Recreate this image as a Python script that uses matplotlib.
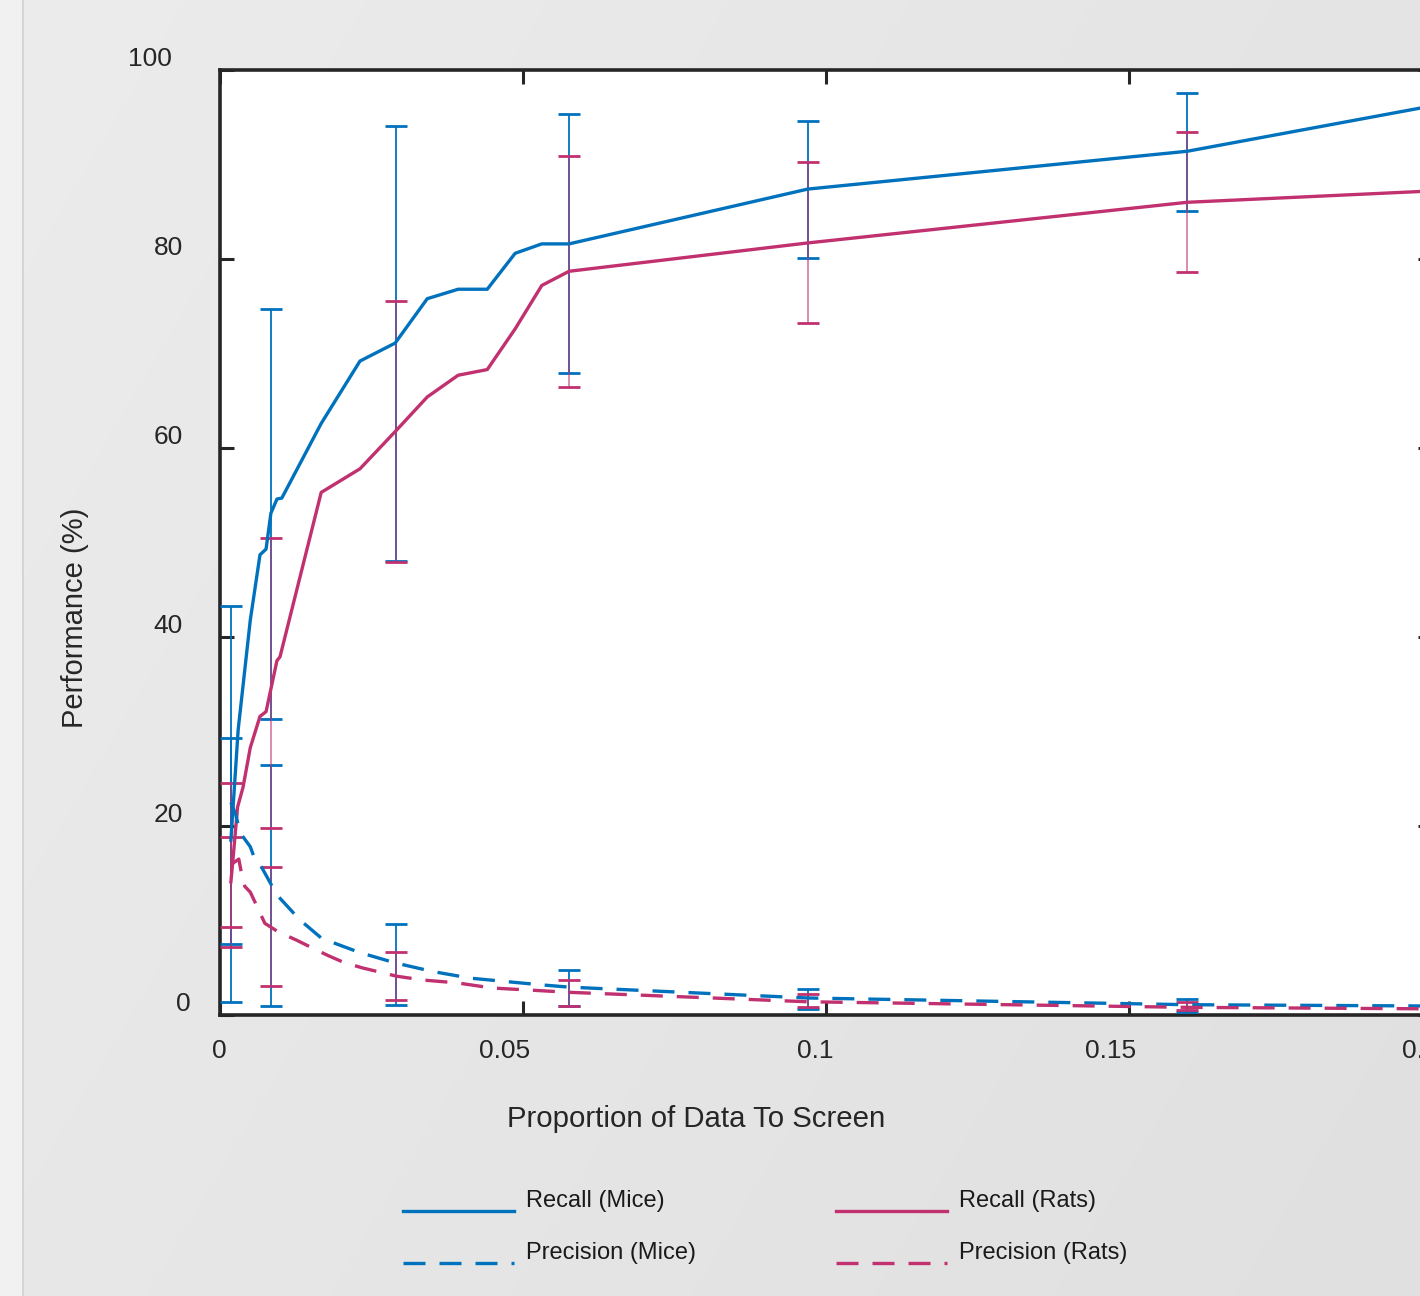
import numpy as np
import matplotlib
matplotlib.use("Agg")
import matplotlib.pyplot as plt
from matplotlib.transforms import offset_copy

plt.rcParams["font.family"] = ["Liberation Sans", "DejaVu Sans"]

# ── Data ──────────────────────────────────────────────────────────────────────

recall_mice_x = [0.0018, 0.0030, 0.0050, 0.0066, 0.0076, 0.0084, 0.0094, 0.0102,
                 0.0167, 0.0231, 0.0289, 0.0342, 0.0393, 0.0441, 0.0487, 0.0531,
                 0.0576, 0.0970, 0.1596, 0.2000]
recall_mice_y = [18.5, 30.2, 41.8, 48.7, 49.3, 53.1, 54.6, 54.7,
                 62.6, 69.2, 71.1, 75.8, 76.8, 76.8, 80.6, 81.6,
                 81.6, 87.4, 91.4, 96.2]

recall_rats_x = [0.0018, 0.0021, 0.0029, 0.0038, 0.0050, 0.0066, 0.0076, 0.0094,
                 0.0099, 0.0167, 0.0231, 0.0290, 0.0342, 0.0393, 0.0441, 0.0487,
                 0.0531, 0.0576, 0.0970, 0.1596, 0.2000]
recall_rats_y = [14.1, 16.2, 22.0, 24.1, 28.3, 31.6, 32.1, 37.5,
                 37.9, 55.3, 57.8, 61.8, 65.4, 67.7, 68.3, 72.6,
                 77.2, 78.7, 81.7, 86.0, 87.2]

precision_mice_x = [0.0018, 0.0026, 0.0033, 0.0050, 0.0058, 0.0069, 0.0094, 0.0132,
                    0.0168, 0.0231, 0.0290, 0.0351, 0.0413, 0.0528, 0.0576, 0.0970,
                    0.1596, 0.2000]
precision_mice_y = [22.5, 21.2, 19.3, 17.8, 16.4, 15.6, 12.7, 10.05,
                    8.1, 6.6, 5.5, 4.6, 3.9, 3.2, 2.95, 1.8,
                    1.09, 0.95]

precision_rats_x = [0.0018, 0.0031, 0.0036, 0.0041, 0.0050, 0.0061, 0.0074, 0.0096,
                    0.0127, 0.0149, 0.0178, 0.0203, 0.0234, 0.0292, 0.0335, 0.0391,
                    0.0450, 0.0508, 0.0576, 0.0970, 0.1596, 0.2000]
precision_rats_y = [15.9, 16.5, 14.8, 13.6, 13.0, 11.5, 9.7, 8.8,
                    7.9, 7.2, 6.3, 5.6, 5.0, 4.1, 3.7, 3.4,
                    2.85, 2.65, 2.4, 1.4, 0.81, 0.65]

# error bars (mean +/- half-range) at the sampled screening proportions
err_x = [0.0018, 0.0084, 0.0290, 0.0576, 0.0970, 0.1596]
recall_mice_mean = [22.35, 53.0, 71.05, 81.6, 87.35, 91.35]
recall_mice_err = [20.95, 21.7, 23.05, 13.7, 7.25, 6.25]
recall_rats_mean = [15.85, 35.15, 61.75, 78.7, 81.75, 86.0]
recall_rats_err = [8.65, 15.35, 13.85, 12.2, 8.55, 7.4]
precision_mice_mean = [18.4, 13.7, 5.35, 2.9, 1.7, 1.0]
precision_mice_err = [10.9, 12.8, 4.3, 1.9, 1.05, 0.67]
precision_rats_mean = [14.05, 9.4, 4.15, 2.35, 1.55, 0.95]
precision_rats_err = [4.75, 6.3, 2.55, 1.35, 0.7, 0.43]

x_ticks = [0, 0.05, 0.1, 0.15, 0.2]
x_tick_labels = ["0", "0.05", "0.1", "0.15", "0.2"]
y_ticks = [0, 20, 40, 60, 80, 100]
y_tick_labels = ["0", "20", "40", "60", "80", "100"]

legend_labels = ["Recall (Mice)", "Recall (Rats)", "Precision (Mice)", "Precision (Rats)"]

BLUE = "#0072BD"
PINK = "#C1306F"
INK = "#262626"
W, H = 1420, 1296

# ── Figure + background ───────────────────────────────────────────────────────

fig = plt.figure(figsize=(W / 100, H / 100), dpi=100)

bg = fig.add_axes([0, 0, 1, 1], zorder=-10)
bg.set_xlim(0, W)
bg.set_ylim(H, 0)
bg.axis("off")
gx, gy = np.meshgrid(np.linspace(0, 1, 300), np.linspace(0, 1, 300))
shade = (236 - 12 * (0.65 * gx + 0.35 * gy)) / 255.0
bg.imshow(np.dstack([shade] * 3), extent=[0, W, H, 0], aspect="auto", interpolation="bilinear")
bg.fill_between([0, 22], 0, H, color="#f1f1f1", lw=0)
bg.plot([22.5, 22.5], [0, H], color="#d2d2d2", lw=1.2)

# ── Main axes (right edge runs past the figure) ───────────────────────────────

ax = fig.add_axes([220 / W, (H - 1015) / H, 1212 / W, 945 / H])
ax.set_facecolor("white")
ax.set_xlim(0, 0.2)
ax.set_ylim(0, 100)

dash = (0, (6.6, 4.2))
ax.plot(recall_mice_x, recall_mice_y, color=BLUE, lw=2.4, zorder=4, solid_joinstyle="round")
ax.plot(recall_rats_x, recall_rats_y, color=PINK, lw=2.4, zorder=4, solid_joinstyle="round")
ax.plot(precision_mice_x, precision_mice_y, color=BLUE, lw=2.4, ls=dash, zorder=4)
ax.plot(precision_rats_x, precision_rats_y, color=PINK, lw=2.4, ls=dash, zorder=4)

for mean, err, col, a in [
    (recall_mice_mean, recall_mice_err, BLUE, 1.0),
    (precision_mice_mean, precision_mice_err, BLUE, 1.0),
    (recall_rats_mean, recall_rats_err, PINK, 0.6),
    (precision_rats_mean, precision_rats_err, PINK, 0.6),
]:
    eb = ax.errorbar(err_x, mean, yerr=err, fmt="none", ecolor=col, elinewidth=1.3,
                     capsize=8, capthick=2.0, zorder=3)
    for bars in eb[2]:
        bars.set_alpha(a)

for side in ax.spines.values():
    side.set_color(INK)
    side.set_linewidth(2.6)
ax.set_xticks(x_ticks)
ax.set_yticks(y_ticks)
ax.tick_params(direction="in", length=10, width=2.2, color=INK,
               top=True, right=True, labelbottom=False, labelleft=False)

# tick labels sit slightly offset from their ticks
for xv, lab in zip(x_ticks, x_tick_labels):
    tr = offset_copy(ax.get_xaxis_transform(), fig=fig, x=7, y=-36, units="dots")
    ax.text(xv, 0, lab, transform=tr, ha="right", va="center",
            fontsize=19, color=INK, clip_on=False)

y_nudge = [-29, -37, -37, -37, -37, -48]
for yv, lab, nx in zip(y_ticks, y_tick_labels, y_nudge):
    tr = offset_copy(ax.get_yaxis_transform(), fig=fig, x=nx, y=11, units="dots")
    ax.text(0, yv, lab, transform=tr, ha="right", va="center",
            fontsize=19, color=INK, clip_on=False)

bg.text(696, 1119, "Proportion of Data To Screen", ha="center", va="center",
        fontsize=21.2, color=INK)
bg.text(75, 618, "Performance (%)", ha="center", va="center", rotation=90,
        fontsize=21, color=INK)

# ── Legend ────────────────────────────────────────────────────────────────────

legend_slots = [(403, 1211, BLUE, "-"), (836, 1211, PINK, "-"),
                (403, 1263, BLUE, dash), (836, 1263, PINK, dash)]
for (lx, ly, col, style), lab in zip(legend_slots, legend_labels):
    bg.plot([lx, lx + 111], [ly, ly], color=col, lw=2.4, ls=style)
    bg.text(lx + 123, ly - 10, lab, ha="left", va="center", fontsize=17, color="#1a1a1a")

fig.savefig("out.png", dpi=100)
